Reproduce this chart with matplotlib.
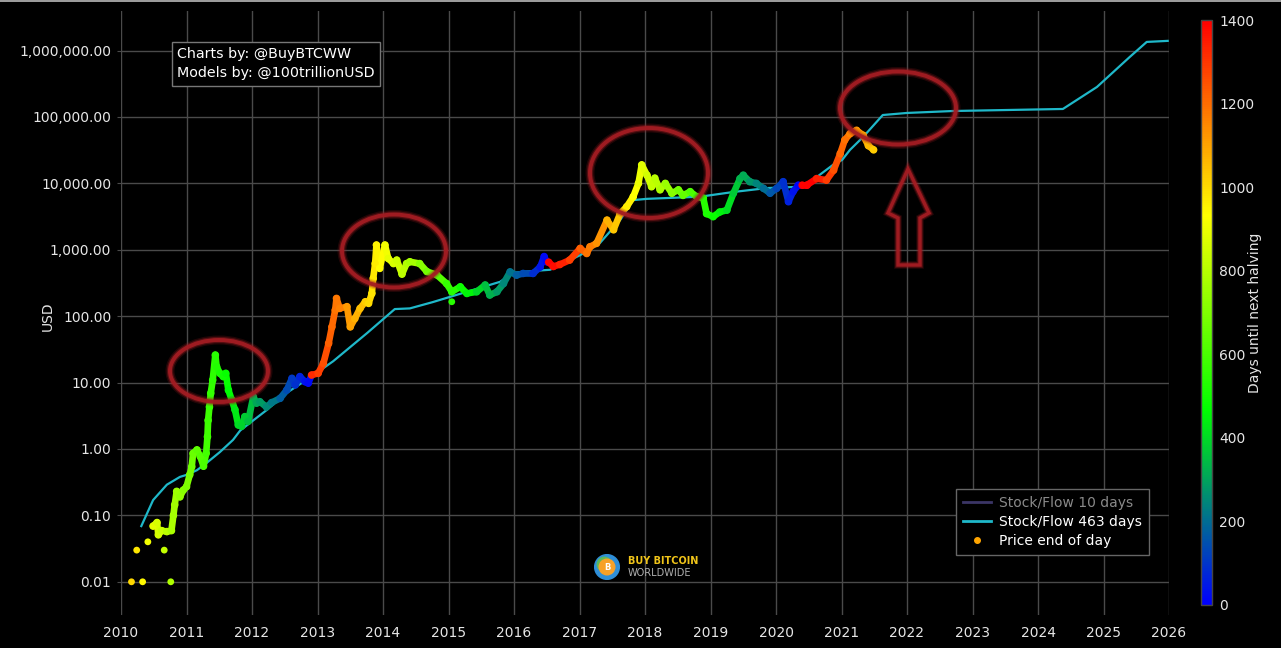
import matplotlib
matplotlib.use('Agg')
import matplotlib.pyplot as plt
import numpy as np
from matplotlib.colors import LinearSegmentedColormap, Normalize
from matplotlib.collections import LineCollection
from matplotlib.patches import Ellipse, Polygon, Circle
from matplotlib.lines import Line2D
from matplotlib.ticker import FuncFormatter, FixedLocator
import matplotlib.cm as cm

plt.rcParams['font.family'] = ['DejaVu Sans']

# ---------------- data ----------------
halving_dates = [2012.909, 2016.519, 2020.359, 2024.30]

sf_years = [2010.31, 2010.49, 2010.70, 2010.90, 2011.01, 2011.16, 2011.31, 2011.51, 2011.71,
            2011.82, 2012.02, 2012.23, 2012.53, 2012.89, 2013.24, 2013.76, 2014.18, 2014.41,
            2014.76, 2015.02, 2015.79, 2015.98, 2016.29, 2016.55, 2017.01, 2017.31, 2017.62,
            2017.82, 2018.03, 2018.84, 2019.34, 2019.86, 2020.37, 2020.56, 2020.87, 2021.01,
            2021.13, 2021.33, 2021.63, 2022.00, 2022.70, 2024.38, 2024.90, 2025.40, 2025.66,
            2025.98]
sf_values = [0.069, 0.17, 0.29, 0.38, 0.41, 0.48, 0.62, 0.9, 1.37,
             1.9, 2.7, 3.9, 7, 12, 21, 56, 128, 131,
             163, 195, 330, 450, 480, 500, 830, 1260, 2800,
             5600, 5850, 6300, 7400, 8500, 8900, 11200, 19000, 22600,
             32000, 50000, 107000, 115000, 123000, 132000, 283000, 800000, 1350000,
             1400000]

isolated_years = [2010.16, 2010.24, 2010.33, 2010.41, 2010.66, 2010.76, 2015.05]
isolated_prices = [0.01, 0.03, 0.01, 0.04, 0.03, 0.01, 165]

price_years = [2010.49, 2010.55, 2010.57, 2010.62, 2010.70, 2010.77, 2010.80, 2010.82, 2010.85,
               2010.90, 2010.95, 2011.00, 2011.05, 2011.08, 2011.10, 2011.16, 2011.21, 2011.26,
               2011.30, 2011.32, 2011.33, 2011.35, 2011.37, 2011.40, 2011.44, 2011.46, 2011.51,
               2011.56, 2011.60, 2011.64, 2011.69, 2011.74, 2011.79, 2011.84, 2011.89, 2011.94,
               2012.02, 2012.07, 2012.12, 2012.22, 2012.30, 2012.43, 2012.53, 2012.61, 2012.66,
               2012.73, 2012.81, 2012.86, 2012.91, 2013.01, 2013.09, 2013.17, 2013.22, 2013.27,
               2013.29, 2013.34, 2013.45, 2013.50, 2013.57, 2013.65, 2013.73, 2013.78, 2013.83,
               2013.85, 2013.88, 2013.90, 2013.95, 2014.03, 2014.08, 2014.16, 2014.21, 2014.29,
               2014.36, 2014.41, 2014.56, 2014.67, 2014.82, 2014.97, 2015.05, 2015.18, 2015.28,
               2015.43, 2015.56, 2015.63, 2015.74, 2015.84, 2015.94, 2016.04, 2016.14, 2016.29,
               2016.40, 2016.46, 2016.50, 2016.53, 2016.60, 2016.70, 2016.85, 2017.01, 2017.11,
               2017.16, 2017.26, 2017.42, 2017.52, 2017.62, 2017.72, 2017.82, 2017.90, 2017.95,
               2018.03, 2018.10, 2018.15, 2018.23, 2018.31, 2018.41, 2018.51, 2018.58, 2018.69,
               2018.79, 2018.89, 2018.94, 2019.04, 2019.14, 2019.25, 2019.35, 2019.45, 2019.50,
               2019.60, 2019.70, 2019.81, 2019.91, 2020.01, 2020.11, 2020.19, 2020.26, 2020.34,
               2020.40, 2020.47, 2020.62, 2020.77, 2020.88, 2020.98, 2021.05, 2021.13, 2021.23,
               2021.33, 2021.41, 2021.49]
price_values = [0.069, 0.078, 0.051, 0.059, 0.057, 0.059, 0.10, 0.144, 0.23,
                0.19, 0.24, 0.27, 0.41, 0.54, 0.86, 0.97, 0.77, 0.55,
                0.86, 1.53, 2.7, 4.3, 6.9, 10.9, 26, 17.3, 13.8,
                12.3, 13.8, 7.7, 5.5, 3.9, 2.3, 2.2, 3.07, 2.6,
                6.1, 4.9, 5.15, 4.3, 5.0, 5.8, 7.7, 11.6, 9.2,
                12.3, 10.3, 9.8, 13, 13.8, 19.5, 39, 69, 123,
                185, 131, 139, 69, 92, 131, 165, 156, 220,
                370, 620, 1180, 525, 1180, 740, 620, 700, 430,
                620, 660, 620, 470, 420, 310, 233, 277, 220,
                233, 295, 208, 233, 310, 465, 415, 440, 440,
                550, 790, 660, 650, 560, 600, 700, 1050, 880,
                1110, 1250, 2800, 2000, 3500, 4450, 6300, 10000, 19000,
                13300, 8900, 12000, 8000, 10000, 7100, 8000, 6600, 7500,
                6300, 6000, 3500, 3150, 3700, 3950, 7100, 11800, 13300,
                10600, 10000, 8400, 7100, 8400, 10600, 5300, 7500, 9400,
                9400, 9400, 11800, 11200, 15800, 28000, 45000, 56000, 63000,
                53000, 37000, 32000]

y_ticks = [0.01, 0.1, 1, 10, 100, 1000, 10000, 100000, 1000000]
x_ticks = list(range(2010, 2027))
cbar_ticks = [0, 200, 400, 600, 800, 1000, 1200, 1400]


def days_until_halving(years):
    out = []
    for y in years:
        nxt = min(h for h in halving_dates if h > y)
        out.append((nxt - y) * 365.25)
    return np.array(out)


# ---------------- style ----------------
cmap = LinearSegmentedColormap.from_list('halving', ['#0000ff', '#00ff00', '#ffff00', '#ff0000'])
norm = Normalize(0, 1400)
grid_col = '#4a4a4a'
txt_col = '#e6e6e6'
sf_col = '#1fb8c9'
ring_col = '#a31c22'

W, H = 1281, 648
fig = plt.figure(figsize=(W / 100, H / 100), dpi=100, facecolor='black')
ax_l, ax_r, ax_t, ax_b = 121, 1169, 11, 615
ax = fig.add_axes([ax_l / W, 1 - ax_b / H, (ax_r - ax_l) / W, (ax_b - ax_t) / H])
ax.set_facecolor('black')
ax.set_yscale('log')
ax.set_xlim(2010, 2026)
ax.set_ylim(10 ** -2.5, 10 ** 6.596)
for s in ax.spines.values():
    s.set_visible(False)
ax.yaxis.set_major_locator(FixedLocator(y_ticks))
ax.yaxis.set_minor_locator(FixedLocator([]))
ax.yaxis.set_major_formatter(FuncFormatter(lambda v, p: f"{v:,.2f}"))
ax.set_xticks(x_ticks)
ax.set_xticklabels([str(x) for x in x_ticks])
ax.grid(True, color=grid_col, lw=1)
ax.set_axisbelow(True)
ax.tick_params(axis='y', colors=grid_col, labelcolor=txt_col, labelsize=10, length=3, pad=4)
ax.tick_params(axis='x', colors=grid_col, labelcolor=txt_col, labelsize=10, length=0, pad=8)
ax.set_ylabel('USD', color=txt_col, fontsize=10)
ax.yaxis.set_label_coords((55 - ax_l) / (ax_r - ax_l), 1 - (316 - ax_t) / (ax_b - ax_t))

# stock/flow line
ax.plot(sf_years, sf_values, color=sf_col, lw=1.6, zorder=3)

# price: thick coloured trail + dots
py = np.array(price_years)
pv = np.array(price_values)
pdays = days_until_halving(price_years)
pts = np.column_stack([py, pv])
segs = np.stack([pts[:-1], pts[1:]], axis=1)
lc = LineCollection(segs, colors=cmap(norm(pdays[:-1])), linewidths=4.8, capstyle='round',
                    joinstyle='round', zorder=4)
ax.add_collection(lc)
ax.scatter(py, pv, c=pdays, cmap=cmap, norm=norm, s=30, edgecolors='none', zorder=5)
idays = days_until_halving(isolated_years)
ax.scatter(isolated_years, isolated_prices, c=idays, cmap=cmap, norm=norm, s=24,
           edgecolors='none', zorder=5)


# annotation rings (axes fraction)
def px2ax(x, y):
    return ((x - ax_l) / (ax_r - ax_l), 1 - (y - ax_t) / (ax_b - ax_t))


rings = [(219, 371, 98, 62), (394, 251, 104, 73), (649, 173, 118, 90), (898, 108, 116, 73)]
for cx, cy, w, h in rings:
    c = px2ax(cx, cy)
    for lw, a in [(6.5, 0.2), (4.5, 0.4), (2.8, 0.95)]:
        ax.add_patch(Ellipse(c, w / (ax_r - ax_l), h / (ax_b - ax_t), fill=False,
                             edgecolor=ring_col, lw=lw, alpha=a, transform=ax.transAxes,
                             zorder=6))

arrow_px = [(908, 169), (929, 213), (920, 218), (920, 265), (898, 265), (898, 218), (888, 213)]
arrow_ax = [px2ax(x, y) for x, y in arrow_px]
for lw, a in [(5.5, 0.2), (4, 0.4), (2.4, 0.95)]:
    ax.add_patch(Polygon(arrow_ax, closed=True, fill=False, edgecolor=ring_col, lw=lw,
                         alpha=a, joinstyle='miter', transform=ax.transAxes, zorder=6))

# credits box
bx, by = px2ax(177, 47)
ax.text(bx, by, 'Charts by: @BuyBTCWW\nModels by: @100trillionUSD', transform=ax.transAxes,
        ha='left', va='top', color='white', fontsize=10.3, linespacing=1.5, zorder=7,
        bbox=dict(boxstyle='square,pad=0.35', facecolor='black', edgecolor='#777777', lw=1))

# legend
handles = [Line2D([], [], color='#3b3566', lw=2),
           Line2D([], [], color=sf_col, lw=2),
           Line2D([], [], color='#ffa500', marker='o', ls='none', markersize=4)]
labels = ['Stock/Flow 10 days', 'Stock/Flow 463 days', 'Price end of day']
lx, ly = px2ax(1149, 555)
leg = ax.legend(handles, labels, loc='lower right', bbox_to_anchor=(lx, ly), fontsize=10,
                frameon=True, fancybox=False, facecolor='black', edgecolor='#666666',
                framealpha=1, handlelength=2.0, handletextpad=0.6, borderpad=0.5,
                labelspacing=0.35, borderaxespad=0)
leg.set_zorder(8)
for i, t in enumerate(leg.get_texts()):
    t.set_color('#8a8a8a' if i == 0 else 'white')

# colour bar
cax = fig.add_axes([1201 / W, 1 - 605 / H, 11 / W, (605 - 20) / H])
sm = cm.ScalarMappable(norm=norm, cmap=cmap)
cb = fig.colorbar(sm, cax=cax, ticks=cbar_ticks)
cb.outline.set_edgecolor('#444444')
cb.outline.set_linewidth(1)
cax.tick_params(colors=txt_col, labelsize=10, length=0, pad=5)
fig.text(1255 / W, 1 - 313 / H, 'Days until next halving', rotation=90, color=txt_col,
         fontsize=10, ha='center', va='center')

# logo
lax = fig.add_axes([594 / W, 1 - 580 / H, 26 / W, 26 / H])
lax.set_xlim(-1, 1)
lax.set_ylim(-1, 1)
lax.set_aspect('equal')
lax.axis('off')
lax.add_patch(Circle((0, 0), 0.95, color='#2f8fd8'))
lax.add_patch(Circle((-0.2, 0.2), 0.55, color='#5cb85c'))
lax.add_patch(Circle((0, 0), 0.6, color='#f7a128'))
lax.text(0, -0.02, 'B', color='white', fontsize=6, fontweight='bold', ha='center', va='center')
fig.text(628 / W, 1 - 561 / H, 'BUY BITCOIN', color='#f0c419', fontsize=7, fontweight='bold',
         ha='left', va='center')
fig.text(628 / W, 1 - 573 / H, 'WORLDWIDE', color='#b0b0b0', fontsize=7, ha='left', va='center')

fig.add_artist(Line2D([0, 1], [0.9985, 0.9985], color='#bbbbbb', lw=1.2,
                      transform=fig.transFigure))

fig.savefig('out.png', dpi=100, facecolor='black')
